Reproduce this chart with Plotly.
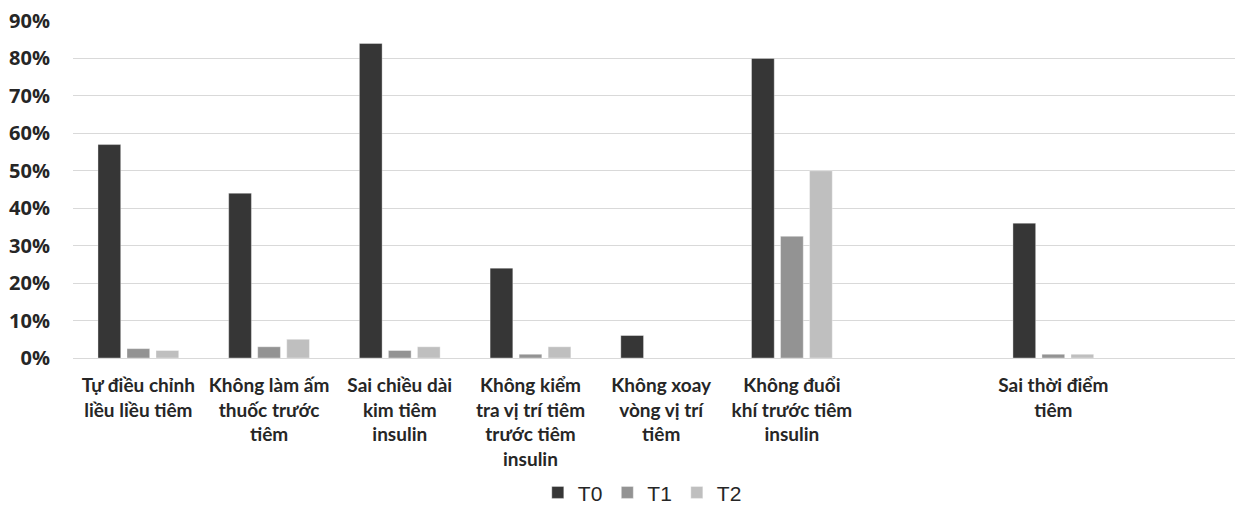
import plotly.graph_objects as go

categories = [
    "Tự điều chỉnh<br>liều liều tiêm",
    "Không làm ấm<br>thuốc trước<br>tiêm",
    "Sai chiều dài<br>kim tiêm<br>insulin",
    "Không kiểm<br>tra vị trí tiêm<br>trước tiêm<br>insulin",
    "Không xoay<br>vòng vị trí<br>tiêm",
    "Không đuổi<br>khí trước tiêm<br>insulin",
    " ",
    "Sai thời điểm<br>tiêm",
    "  ",
]
t0 = [0.57, 0.44, 0.84, 0.24, 0.06, 0.80, None, 0.36, None]
t1 = [0.025, 0.03, 0.02, 0.01, 0.0, 0.325, None, 0.01, None]
t2 = [0.02, 0.05, 0.03, 0.03, 0.0, 0.50, None, 0.01, None]

series = [("T0", t0, "#363636"), ("T1", t1, "#939393"), ("T2", t2, "#bfbfbf")]

fig = go.Figure()
for name, vals, color in series:
    fig.add_trace(go.Bar(
        x=categories, y=vals, name=name,
        marker=dict(color=color, line=dict(color="rgba(255,255,255,0.6)", width=0.6)),
    ))

fig.update_layout(
    width=1235, height=508,
    margin=dict(l=73, r=0, t=21, b=150, autoexpand=False),
    paper_bgcolor="white", plot_bgcolor="white",
    barmode="group", bargap=0.334, bargroupgap=0.217,
    showlegend=True,
    legend=dict(
        orientation="h", x=0.40, xanchor="left",
        yref="container", y=0.03, yanchor="middle",
        font=dict(family="Liberation Sans, Arial, sans-serif", size=21, color="#262626"),
        itemwidth=30, tracegroupgap=0,
    ),
    xaxis=dict(
        type="category", range=[-0.5, 8.39], automargin=False,
        showgrid=False, showline=False, ticks="", ticklabelstandoff=14,
        tickfont=dict(family="Lato, sans-serif", size=19, color="#262626", weight="bold"),
        tickangle=0,
    ),
    yaxis=dict(
        range=[0, 0.9], dtick=0.1, tickformat=".0%", automargin=False,
        showgrid=True, gridcolor="#d9d9d9", gridwidth=1.3,
        zeroline=True, zerolinecolor="#d9d9d9", zerolinewidth=1.3,
        showline=False, ticks="", ticklabelstandoff=22,
        tickfont=dict(family="Open Sans, sans-serif", size=20, color="#262626", weight="bold"),
    ),
)

fig.write_html(
    "out.html",
    config={"displayModeBar": False},
    post_script="document.body.style.margin='0';document.body.style.overflow='hidden';",
)
